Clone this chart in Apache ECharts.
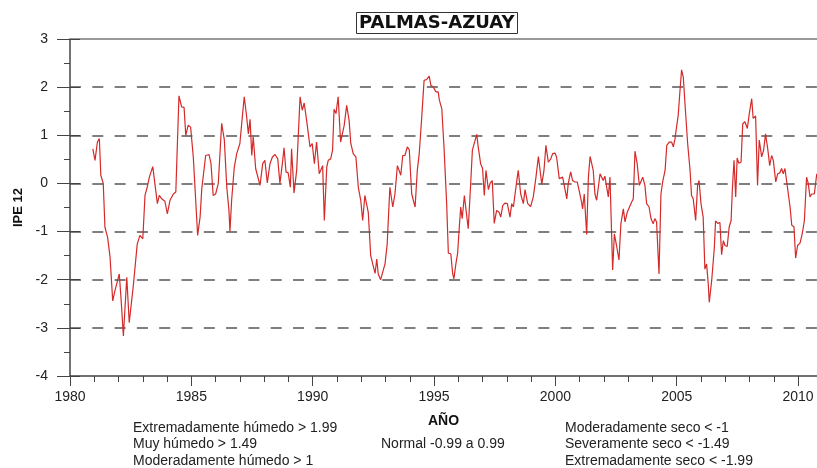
<!DOCTYPE html>
<html>
<head>
<meta charset="utf-8">
<script src="https://cdn.jsdelivr.net/npm/echarts@6/dist/echarts.min.js"></script>
<style>
html, body { margin: 0; padding: 0; background: #fff; }
#chart-container { width: 817px; height: 468px; }
</style>
</head>
<body>
<div id="chart-container"></div>
<script>
var dom = document.getElementById('chart-container');
var myChart = echarts.init(dom, null, { renderer: 'canvas' });

// IPE 12 - Palmas (Azuay)
var anios = [
    1980.94, 1981.03, 1981.13, 1981.21, 1981.27, 1981.37, 1981.44, 1981.55, 1981.65, 1981.76,
    1981.85, 1982.03, 1982.10, 1982.20, 1982.34, 1982.44, 1982.61, 1982.68, 1982.77, 1982.88,
    1983.00, 1983.09, 1983.18, 1983.27, 1983.41, 1983.60, 1983.68, 1983.78, 1983.91, 1984.01,
    1984.12, 1984.26, 1984.36, 1984.49, 1984.60, 1984.70, 1984.77, 1984.87, 1984.97, 1985.08,
    1985.26,
    1985.36, 1985.43, 1985.49, 1985.59, 1985.73, 1985.81, 1985.90, 1986.00, 1986.11, 1986.25,
    1986.36, 1986.46, 1986.55, 1986.59, 1986.66, 1986.77, 1986.87, 1987.00, 1987.10, 1987.18,
    1987.28, 1987.35, 1987.42, 1987.49, 1987.55, 1987.65, 1987.73, 1987.83, 1987.94, 1988.03,
    1988.13, 1988.24, 1988.34, 1988.45, 1988.56, 1988.65, 1988.75, 1988.82, 1988.90, 1988.99,
    1989.08, 1989.13, 1989.23, 1989.34, 1989.48, 1989.57, 1989.65, 1989.75, 1989.89, 1989.98,
    1990.07, 1990.16, 1990.27,
    1990.41, 1990.48, 1990.58, 1990.64, 1990.74, 1990.82, 1990.88, 1990.96, 1991.05, 1991.15,
    1991.22, 1991.30, 1991.40, 1991.50, 1991.57, 1991.67, 1991.78, 1991.88, 1991.98, 1992.06,
    1992.15, 1992.22, 1992.29, 1992.39, 1992.47, 1992.57, 1992.64, 1992.70, 1992.80, 1992.88,
    1992.98, 1993.07, 1993.18, 1993.30, 1993.39, 1993.49, 1993.57, 1993.63, 1993.71, 1993.80,
    1993.90, 1993.98, 1994.08, 1994.22, 1994.31, 1994.39, 1994.49, 1994.59, 1994.70, 1994.80,
    1994.87, 1994.97, 1995.08, 1995.17,
    1995.22, 1995.32, 1995.41, 1995.52, 1995.59, 1995.69, 1995.77, 1995.82, 1995.90, 1995.97,
    1996.04, 1996.10, 1996.16, 1996.25, 1996.32, 1996.41, 1996.51, 1996.58, 1996.66, 1996.76,
    1996.82, 1996.92, 1997.00, 1997.07, 1997.14, 1997.24, 1997.31, 1997.40, 1997.48, 1997.58,
    1997.68, 1997.75, 1997.83, 1997.92, 1998.02, 1998.13, 1998.20, 1998.27, 1998.34, 1998.43,
    1998.47, 1998.57, 1998.68, 1998.75, 1998.86, 1998.98, 1999.09, 1999.20, 1999.30, 1999.37,
    1999.44, 1999.53, 1999.61, 1999.71, 1999.81, 1999.89, 1999.98, 2000.05, 2000.16,
    2000.30, 2000.37, 2000.47, 2000.53, 2000.63, 2000.71, 2000.81, 2000.90, 2000.98, 2001.08,
    2001.12, 2001.19, 2001.29, 2001.36, 2001.43, 2001.50, 2001.56, 2001.63, 2001.70, 2001.77,
    2001.84, 2001.91, 2001.97, 2002.04, 2002.11, 2002.18, 2002.25, 2002.29, 2002.36, 2002.43,
    2002.53, 2002.62, 2002.70, 2002.80, 2002.87, 2002.96, 2003.04, 2003.14, 2003.21, 2003.28,
    2003.37, 2003.46, 2003.51, 2003.60, 2003.69, 2003.76, 2003.86, 2003.94, 2004.03, 2004.10,
    2004.17, 2004.27, 2004.35, 2004.42, 2004.52, 2004.59, 2004.69, 2004.79, 2004.86, 2004.93,
    2005.00, 2005.06, 2005.13, 2005.20, 2005.27,
    2005.34, 2005.45, 2005.55, 2005.61, 2005.68, 2005.78, 2005.86, 2005.92, 2006.00, 2006.09,
    2006.16, 2006.23, 2006.30, 2006.34, 2006.44, 2006.55, 2006.60, 2006.69, 2006.78, 2006.85,
    2006.92, 2006.99, 2007.08, 2007.16, 2007.24, 2007.29, 2007.36, 2007.43, 2007.49, 2007.56,
    2007.65, 2007.72, 2007.81, 2007.91, 2007.99, 2008.09, 2008.15, 2008.25, 2008.33, 2008.40,
    2008.50, 2008.58, 2008.66, 2008.75, 2008.83, 2008.91, 2008.98, 2009.08, 2009.16, 2009.25,
    2009.32, 2009.39, 2009.46, 2009.57, 2009.67, 2009.74, 2009.83, 2009.90, 2009.98, 2010.08,
    2010.17, 2010.26, 2010.35, 2010.42, 2010.49, 2010.56, 2010.67, 2010.77
];

var ipe12 = [
    0.72, 0.48, 0.86, 0.93, 0.17, 0.0, -0.91, -1.12, -1.53, -2.44,
    -2.23, -1.88, -2.37, -3.17, -1.95, -2.89, -2.12, -2.1, -1.26, -1.08,
    -1.15, -0.25, -0.08, 0.13, 0.35, -0.42, -0.25, -0.32, -0.37, -0.63,
    -0.35, -0.22, -0.18, 1.82, 1.59, 1.58, 1.0, 1.21, 1.17, 0.55,
    -1.08,
    -0.70, -0.11, -0.11, 0.58, 0.60, 0.41, -0.25, -0.22, 0.0, 1.25,
    0.9, -0.08, -0.56, -1.0, -0.35, 0.34, 0.62, 0.83, 1.38, 1.80,
    1.38, 1.03, 1.33, 0.58, 0.97, 0.31, 0.27, -0.04, 0.41, 0.48,
    0.01, 0.41, 0.55, 0.60, 0.51, 0.0, 0.41, 0.74, 0.24, 0.22,
    -0.08, 0.72, -0.2, 0.27, 1.80, 1.52, 1.67, 1.31, 0.76, 0.83,
    0.41, 0.86, 0.2,
    0.37, -0.77, 0.34, 0.48, 0.51, 0.69, 1.54, 1.45, 1.80, 0.86,
    0.86, 1.21, 1.62, 1.31, 0.83, 0.62, 0.55, -0.08, -0.35, -0.77,
    -0.25, -0.22, -0.6, -1.5, -1.53, -1.87, -1.57, -1.88, -2.0, -1.98,
    -1.67, -1.26, -0.08, -0.49, -0.22, 0.37, 0.41, 0.17, 0.58, 0.58,
    0.76, 0.7, -0.22, -0.49, 0.27, 0.62, 1.35, 2.14, 2.16, 2.23,
    2.04, 2.0, 1.90, 1.90,
    1.73, 1.55, 0.76, -0.42, -1.45, -1.46, -1.88, -1.98, -1.67, -1.46,
    -0.91, -0.49, -0.73, -0.25, -0.56, -0.94, 0.0, 0.69, 0.71, 1.02,
    0.76, 0.41, 0.31, -0.25, 0.27, -0.13, 0.0, 0.06, -0.83, -0.56,
    -0.6, -0.7, -0.46, -0.41, -0.42, -0.7, -0.42, -0.49, -0.46, 0.13,
    0.27, -0.22, -0.42, -0.13, -0.42, -0.48, -0.28, 0.13, 0.56, 0.55,
    -0.02, 0.27, 0.79, 0.44, 0.51, 0.62, 0.63, 0.55, 0.1,
    0.13, 0.13, -0.32, 0.0, 0.24, 0.06, 0.03, 0.03, -0.15, -0.39,
    -0.53, -0.22, -1.06, 0.13, 0.56, 0.58, 0.27, -0.22, -0.35, -0.08,
    0.2, 0.13, 0.06, 0.15, 0.17, -0.28, 0.13, 0.13, -1.80, -1.05,
    -1.32, -1.59, -0.84, -0.53, -0.8, -0.6, -0.56, -0.39, -0.32, 0.67,
    0.41, -0.04, -0.08, 0.13, -0.04, -0.42, -0.49, -0.73, -0.84, -0.73,
    -0.8, -1.88, -0.22, 0.03, 0.27, 0.79, 0.86, 0.86, 0.76, 0.93,
    1.2, 1.41, 1.90, 2.36, 2.21,
    1.66, 0.83, 0.27, -0.25, -0.32, -0.77, -0.04, 0.06, -0.42, -0.7,
    -1.78, -1.67, -2.09, -2.47, -2.02, -1.33, -0.78, -0.83, -0.81, -1.48,
    -1.19, -1.29, -1.31, -0.91, -0.77, -0.15, 0.48, -0.28, 0.53, 0.42,
    0.44, 1.24, 1.28, 1.14, 1.45, 1.76, 1.35, 1.40, -0.04, 0.9,
    0.55, 0.69, 1.03, 0.72, 0.37, 0.58, 0.48, 0.03, 0.2, 0.22,
    0.31, 0.2, 0.31, -0.11, -0.49, -0.87, -0.9, -1.55, -1.29, -1.24,
    -1.05, -0.77, 0.13, 0.0, -0.28, -0.22, -0.22, 0.2
];

var leyendaHumedo = ['Extremadamente húmedo > 1.99', 'Muy húmedo > 1.49', 'Moderadamente húmedo > 1'];
var leyendaNormal = ['Normal -0.99 a 0.99'];
var leyendaSeco = ['Moderadamente seco < -1', 'Severamente seco < -1.49', 'Extremadamente seco < -1.99'];

var serie = anios.map(function (a, i) { return [a, ipe12[i]]; });

var fuente = 'Liberation Sans, Arial, sans-serif';
var fuenteNarrow = '"Liberation Sans Narrow", "Arial Narrow", "Liberation Sans", sans-serif';

function textos(lineas, x, y0) {
    return lineas.map(function (t, i) {
        return {
            type: 'text',
            left: x,
            top: y0 + i * 16.5,
            style: { text: t, fontSize: 14, fontFamily: fuenteNarrow, fill: '#222' }
        };
    });
}

var option = {
    animation: false,
    title: {
        text: 'PALMAS-AZUAY',
        left: 356,
        top: 12,
        padding: [2, 3, 2, 3],
        borderColor: '#333',
        borderWidth: 1,
        textStyle: { fontSize: 18, lineHeight: 18, fontWeight: 'bold', color: '#111', fontFamily: '"DejaVu Sans", sans-serif' }
    },
    grid: { left: 70, right: 0, top: 39, bottom: 92 },
    xAxis: [{
        type: 'value',
        min: 1980,
        max: 2010.78,
        interval: 5,
        name: 'AÑO',
        nameLocation: 'middle',
        nameGap: 38,
        nameTextStyle: { fontSize: 14, fontWeight: 'bold', color: '#111', fontFamily: fuente },
        axisLine: { onZero: false, lineStyle: { color: '#444', width: 1.5 } },
        axisTick: { length: 10, lineStyle: { color: '#444' } },
        minorTick: { show: true, splitNumber: 5, length: 6, lineStyle: { color: '#444' } },
        axisLabel: {
            showMaxLabel: false, fontSize: 14, color: '#222', margin: 14, fontFamily: fuente,
            formatter: function (v) { return String(v); }
        },
        splitLine: { show: false }
    }, {
        type: 'value',
        position: 'top',
        min: 1980,
        max: 2010.78,
        axisLine: { show: true, onZero: false, lineStyle: { color: '#999', width: 2 } },
        axisTick: { show: false },
        axisLabel: { show: false },
        splitLine: { show: false }
    }],
    yAxis: [{
        type: 'value',
        min: -4,
        max: 3,
        interval: 1,
        name: 'IPE 12',
        nameLocation: 'middle',
        nameGap: 44,
        nameTextStyle: { fontSize: 13, fontWeight: 'bold', color: '#111', fontFamily: fuente },
        axisLine: { show: true, onZero: false, lineStyle: { color: '#444', width: 1.5 } },
        axisTick: { show: true, length: 13, lineStyle: { color: '#444' } },
        minorTick: { show: true, splitNumber: 2, length: 6, lineStyle: { color: '#444' } },
        axisLabel: { fontSize: 14, color: '#222', margin: 22, fontFamily: fuente },
        splitLine: {
            show: true,
            showMinLine: false,
            showMaxLine: false,
            lineStyle: { color: '#555', width: 1.5, type: [11, 11.3] }
        }
    }, {
        // marcas hacia adentro del eje Y
        type: 'value',
        position: 'left',
        min: -4,
        max: 3,
        interval: 1,
        axisLine: { show: false, onZero: false },
        axisTick: { show: true, inside: true, length: 10, lineStyle: { color: '#444' } },
        axisLabel: { show: false },
        splitLine: { show: false }
    }],
    series: [{
        type: 'line',
        data: serie,
        symbol: 'none',
        lineStyle: { color: '#d42a2a', width: 1.2 },
        z: 3
    }],
    graphic: [].concat(
        textos(leyendaHumedo, 133, 421),
        textos(leyendaNormal, 381, 437.5),
        textos(leyendaSeco, 565, 421)
    )
};

myChart.setOption(option);
window.addEventListener('resize', myChart.resize);
</script>
</body>
</html>
